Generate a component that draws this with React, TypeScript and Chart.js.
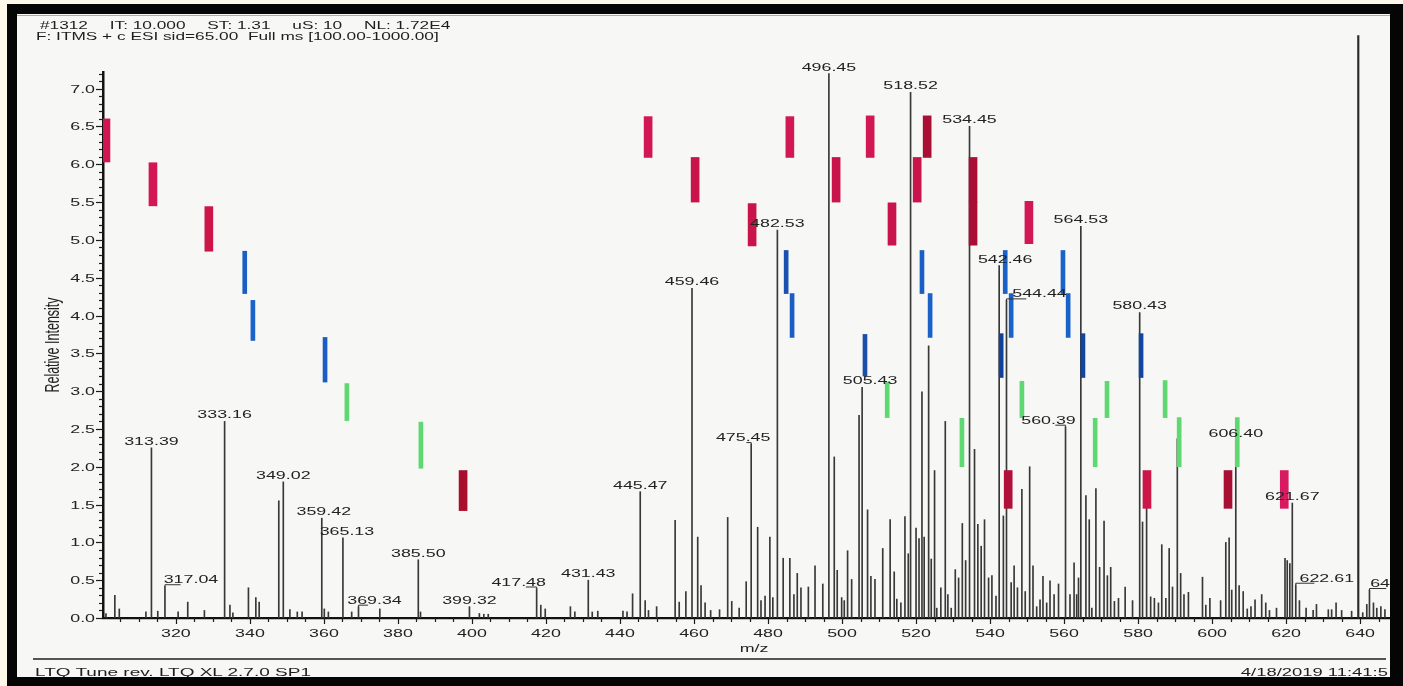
import React, { useEffect, useRef } from "react";
import { Chart, registerables } from "chart.js";

Chart.register(...registerables);

const FONT = '"Liberation Sans", Arial, Helvetica, sans-serif';
const SX = 1.55; // horizontal stretch of the scanned text

// ---- text ----
const headerFields = ["#1312", "IT: 10.000", "ST: 1.31", "uS: 10", "NL: 1.72E4"];
const headerLine2 = "F: ITMS + c ESI sid=65.00  Full ms [100.00-1000.00]";
const footerLeft = "LTQ Tune rev. LTQ XL 2.7.0 SP1";
const footerRight = "4/18/2019 11:41:5";
const xTitle = "m/z";
const yTitle = "Relative Intensity";

// ---- axes ----
const xMin = 300.3;
const xMax = 647.8;
const yMin = 0;
const yMax = 7.22;
const xTickValues = [320, 340, 360, 380, 400, 420, 440, 460, 480, 500, 520, 540, 560, 580, 600, 620, 640];
const yTickValues = [0, 0.5, 1, 1.5, 2, 2.5, 3, 3.5, 4, 4.5, 5, 5.5, 6, 6.5, 7];

// ---- spectrum peaks (m/z, relative intensity) ----
const peakMz = [
  301.1, 303.5, 304.7, 311.9, 313.39, 315.1, 317.04, 320.6, 323.2, 327.7,
  333.16, 334.6, 335.4, 339.6, 341.6, 342.5, 347.8, 349.02, 350.8, 352.8,
  354.1, 359.42, 360.1, 361.2, 365.13, 367.5, 369.34, 375.1, 385.5, 386.1,
  399.32, 402.0, 403.2, 404.4, 417.48, 418.6, 419.8, 426.6, 427.8, 431.43,
  432.5, 434.0, 440.8, 441.9, 443.4, 445.47, 446.8, 447.7, 449.9, 454.9,
  456.0, 457.8, 459.46, 461.0, 461.9, 463.0, 464.5, 466.9, 469.1, 470.2,
  472.2, 474.1, 475.45, 477.2, 478.1, 479.2, 480.5, 481.3, 482.53, 484.1,
  485.9, 487.0, 487.9, 488.9, 490.9, 492.7, 494.8, 496.45, 497.9, 498.7,
  499.9, 500.6, 501.5, 502.6, 504.6, 505.43, 506.9, 507.8, 508.9, 511.0,
  513.0, 514.1, 514.8, 515.9, 517.0, 517.9, 518.52, 520.0, 520.8, 521.6,
  522.2, 523.4, 524.1, 525.0, 525.6, 526.7, 527.9, 528.6, 529.5, 530.6,
  531.5, 532.5, 533.4, 534.45, 535.8, 536.7, 537.6, 538.5, 539.6, 540.5,
  541.6, 542.46, 543.6, 544.44, 545.7, 546.5, 547.4, 548.6, 549.5, 550.7,
  551.6, 552.6, 553.5, 554.3, 555.3, 556.2, 557.3, 558.5, 560.39, 561.6,
  562.7, 563.4, 563.9, 564.53, 565.9, 566.8, 567.5, 568.6, 569.6, 570.8,
  571.7, 572.6, 573.6, 574.7, 576.5, 578.5, 580.43, 581.2, 582.3, 583.4,
  584.4, 585.5, 586.4, 587.5, 588.4, 589.3, 590.6, 591.5, 592.4, 593.6,
  597.4, 598.3, 599.4, 602.3, 603.7, 604.6, 605.3, 606.4, 607.3, 608.4,
  609.5, 610.5, 611.6, 613.4, 614.5, 615.5, 617.4, 619.7, 620.3, 621.0,
  621.67, 622.61, 623.6, 625.4, 627.3, 628.2, 631.4, 632.3, 633.5, 635.0,
  637.7, 640.7, 641.8, 642.52, 643.6, 644.5, 645.6, 646.7,
];
const peakIntensity = [
  0.06, 0.3, 0.12, 0.08, 2.25, 0.09, 0.42, 0.08, 0.21, 0.1,
  2.6, 0.17, 0.07, 0.4, 0.27, 0.21, 1.55, 1.8, 0.11, 0.08,
  0.08, 1.32, 0.12, 0.08, 1.06, 0.08, 0.15, 0.12, 0.77, 0.08,
  0.15, 0.06, 0.05, 0.05, 0.39, 0.17, 0.12, 0.15, 0.08, 0.5,
  0.08, 0.09, 0.09, 0.08, 0.32, 1.67, 0.23, 0.1, 0.15, 1.29,
  0.21, 0.35, 4.36, 1.07, 0.43, 0.2, 0.1, 0.11, 1.33, 0.22,
  0.13, 0.48, 2.3, 1.2, 0.23, 0.29, 1.07, 0.27, 5.13, 0.79,
  0.79, 0.31, 0.59, 0.4, 0.41, 0.69, 0.45, 7.2, 2.13, 0.63,
  0.27, 0.23, 0.89, 0.51, 2.68, 3.05, 1.43, 0.55, 0.51, 0.92,
  1.3, 0.61, 0.25, 0.2, 1.34, 0.85, 6.95, 1.19, 1.05, 2.99,
  1.07, 3.6, 0.78, 1.95, 0.13, 0.4, 2.6, 0.31, 0.13, 0.64,
  0.53, 1.25, 0.76, 6.5, 2.23, 1.24, 0.95, 1.3, 0.53, 0.56,
  0.29, 4.66, 1.35, 4.2, 0.47, 0.69, 0.4, 1.7, 0.35, 2.0,
  0.69, 0.15, 0.24, 0.55, 0.2, 0.49, 0.31, 0.45, 2.53, 0.31,
  0.73, 0.31, 0.53, 5.18, 1.62, 1.3, 0.13, 1.71, 0.67, 1.28,
  0.56, 0.67, 0.22, 0.26, 0.41, 0.23, 4.04, 1.27, 1.45, 0.28,
  0.26, 0.2, 0.97, 0.26, 0.92, 0.41, 2.37, 0.59, 0.31, 0.34,
  0.54, 0.17, 0.26, 0.23, 1.0, 1.06, 0.37, 2.35, 0.43, 0.35,
  0.12, 0.15, 0.24, 0.31, 0.2, 0.1, 0.13, 0.79, 0.76, 0.72,
  1.52, 0.44, 0.23, 0.13, 0.1, 0.18, 0.11, 0.11, 0.2, 0.1,
  0.09, 0.07, 0.18, 0.37, 0.2, 0.13, 0.15, 0.11,
];
// off-scale peak near 640 (runs above the plot frame)
const offScaleMz = [639.5];
const offScaleIntensity = [7.7];

// ---- peak annotations ----
const labelTexts = [
  "313.39", "317.04", "333.16", "349.02", "359.42", "365.13", "369.34", "385.50",
  "399.32", "417.48", "431.43", "445.47", "459.46", "475.45", "482.53", "496.45",
  "505.43", "518.52", "534.45", "542.46", "544.44", "560.39", "564.53", "580.43",
  "606.40", "621.67", "622.61", "642.52",
];
// horizontal label shift (px) and whether a leader line joins label and peak
const labelShift = [0, 26, 0, 0, 2, 4, 16, 0, 0, -18, 0, 0, 0, -8, 0, 0, 8, 0, 0, 6, 33, -17, 0, 0, 0, 0, 31, 28];
const labelLeader = [false, true, false, false, false, false, true, false, false, true, false, false, false, true, false, false, false, false, false, false, true, true, false, false, false, false, true, true];

// ---- coloured marker bars (m/z, low, high) ----
const redMz = [301.1, 447.6, 485.9, 507.6, 523.0, 313.8, 460.3, 498.4, 520.3, 535.4, 328.9, 475.7, 513.5, 535.4, 550.5, 397.6, 544.9, 582.4, 604.3, 619.5];
const redLow = [6.03, 6.09, 6.09, 6.09, 6.09, 5.45, 5.5, 5.5, 5.5, 5.5, 4.85, 4.92, 4.93, 4.93, 4.95, 1.42, 1.45, 1.45, 1.45, 1.45];
const redHigh = [6.6, 6.63, 6.63, 6.64, 6.64, 6.02, 6.09, 6.09, 6.09, 6.09, 5.44, 5.48, 5.49, 5.5, 5.51, 1.95, 1.95, 1.95, 1.95, 1.95];
const redColors = ["#cf1650", "#d21852", "#d21852", "#d21852", "#a80f33", "#d21852", "#c8144a", "#c8144a", "#c8144a", "#a80f33", "#cc1648", "#c8144a", "#c8144a", "#a80f33", "#d21852", "#a80f2c", "#b0103a", "#cc1648", "#a80f33", "#d81b60"];

const blueMz = [338.6, 484.9, 521.6, 544.1, 559.7, 340.8, 486.5, 523.8, 545.7, 561.1, 360.3, 506.2, 543.0, 565.1, 580.8];
const blueLow = [4.29, 4.29, 4.29, 4.29, 4.29, 3.67, 3.71, 3.71, 3.71, 3.71, 3.12, 3.2, 3.18, 3.18, 3.18];
const blueHigh = [4.85, 4.86, 4.86, 4.86, 4.86, 4.2, 4.29, 4.29, 4.29, 4.29, 3.71, 3.75, 3.76, 3.76, 3.76];
const blueColors = ["#1a5ec4", "#1a50b0", "#1a5ec4", "#1a62c8", "#1a62c8", "#1a62c8", "#1a5ec4", "#1a62c8", "#1a62c8", "#1a62c8", "#1a5ec4", "#1a4fa8", "#12419a", "#12469e", "#12469e"];

const greenMz = [366.2, 512.2, 548.6, 571.6, 587.3, 386.2, 532.4, 568.4, 591.1, 606.8];
const greenLow = [2.61, 2.65, 2.65, 2.65, 2.65, 1.98, 2.0, 2.0, 2.0, 2.0];
const greenHigh = [3.1, 3.12, 3.13, 3.13, 3.14, 2.59, 2.64, 2.64, 2.65, 2.65];
const greenColor = "#5fd872";

function stretchedText(ctx: CanvasRenderingContext2D, text: string, x: number, y: number, align: CanvasTextAlign) {
  ctx.save();
  ctx.translate(x, y);
  ctx.scale(SX, 1);
  ctx.textAlign = align;
  ctx.textBaseline = "alphabetic";
  ctx.fillText(text, 0, 0);
  ctx.restore();
}

// scale factor so a text run fills a measured width on the scan
function fitScale(text: string, font: string, width: number, fallback: number) {
  try {
    const c = document.createElement("canvas").getContext("2d");
    if (!c) return fallback;
    c.font = font;
    const w = c.measureText(text).width;
    return w > 0 ? width / w : fallback;
  } catch (e) {
    return fallback;
  }
}

const overlayPlugin = {
  id: "spectrumOverlay",
  afterDraw(chart: any) {
    const ctx: CanvasRenderingContext2D = chart.ctx;
    const a = chart.chartArea;
    const xs = chart.scales.x;
    const ys = chart.scales.y;
    ctx.save();
    ctx.strokeStyle = "#1c1c1c";
    ctx.lineWidth = 1.2;
    // x ticks (major every 20, minor every 5)
    for (let v = 305; v < xMax; v += 5) {
      const px = Math.round(xs.getPixelForValue(v)) + 0.5;
      const major = v % 20 === 0;
      ctx.beginPath();
      ctx.moveTo(px, a.bottom);
      ctx.lineTo(px, a.bottom + (major ? 6 : 4));
      ctx.stroke();
    }
    // y ticks (major every 0.5, minor every 0.1)
    for (let k = 0; k / 10 <= yMax; k++) {
      const py = Math.round(ys.getPixelForValue(k / 10)) + 0.5;
      const major = k % 5 === 0;
      ctx.beginPath();
      ctx.moveTo(a.left - (major ? 7 : 4), py);
      ctx.lineTo(a.left, py);
      ctx.stroke();
    }
    // tick labels
    ctx.fillStyle = "#222";
    ctx.font = `11.5px ${FONT}`;
    xTickValues.forEach((v) => stretchedText(ctx, String(v), xs.getPixelForValue(v), a.bottom + 19, "center"));
    yTickValues.forEach((v) => stretchedText(ctx, v.toFixed(1), a.left - 8, ys.getPixelForValue(v) + 4, "right"));
    // axis titles
    stretchedText(ctx, xTitle, (a.left + a.right) / 2 + 8, a.bottom + 34, "center");
    ctx.save();
    ctx.font = `12.5px ${FONT}`;
    ctx.translate(59, (a.top + a.bottom) / 2);
    ctx.scale(SX, 1);
    ctx.rotate(-Math.PI / 2);
    ctx.textAlign = "center";
    ctx.textBaseline = "alphabetic";
    ctx.fillText(yTitle, 0, 0);
    ctx.restore();
    // peak labels
    ctx.font = `11.5px ${FONT}`;
    ctx.lineWidth = 1;
    ctx.strokeStyle = "#333";
    labelTexts.forEach((t, i) => {
      const mz = parseFloat(t);
      let best = 0;
      for (let j = 1; j < peakMz.length; j++) {
        if (Math.abs(peakMz[j] - mz) < Math.abs(peakMz[best] - mz)) best = j;
      }
      const px = xs.getPixelForValue(peakMz[best]);
      const py = ys.getPixelForValue(peakIntensity[best]);
      const dx = labelShift[i];
      if (labelLeader[i]) {
        ctx.beginPath();
        ctx.moveTo(px, py);
        ctx.lineTo(px, py - 1.5);
        ctx.lineTo(px + dx * 0.6, py - 1.5);
        ctx.stroke();
      }
      stretchedText(ctx, t, px + dx, py - 3, "center");
    });
    ctx.restore();
  },
};

export default function App() {
  const canvasRef = useRef<HTMLCanvasElement>(null);

  useEffect(() => {
    const canvas = canvasRef.current;
    if (!canvas) return;
    const chart = new Chart(canvas, {
      type: "bar",
      data: {
        datasets: [
          {
            label: "red",
            data: redMz.map((x, i) => ({ x, y: [redLow[i], redHigh[i]] })),
            backgroundColor: redColors,
            barThickness: 8,
            grouped: false,
            order: 1,
          } as any,
          {
            label: "blue",
            data: blueMz.map((x, i) => ({ x, y: [blueLow[i], blueHigh[i]] })),
            backgroundColor: blueColors,
            barThickness: 4,
            grouped: false,
            order: 1,
          } as any,
          {
            label: "green",
            data: greenMz.map((x, i) => ({ x, y: [greenLow[i], greenHigh[i]] })),
            backgroundColor: greenColor,
            barThickness: 4,
            grouped: false,
            order: 1,
          } as any,
          {
            label: "spectrum",
            data: peakMz.map((x, i) => ({ x, y: peakIntensity[i] })),
            backgroundColor: "#383838",
            barThickness: 1,
            grouped: false,
            order: 2,
          } as any,
          {
            label: "offscale",
            data: offScaleMz.map((x, i) => ({ x, y: offScaleIntensity[i] })),
            backgroundColor: "#2a2a2a",
            barThickness: 1.5,
            grouped: false,
            clip: false,
            order: 2,
          } as any,
        ],
      },
      options: {
        responsive: false,
        devicePixelRatio: 1,
        animation: false,
        events: [],
        layout: { padding: { left: 20, right: 14, top: 72, bottom: 23 } },
        plugins: { legend: { display: false }, tooltip: { enabled: false }, title: { display: false } },
        scales: {
          x: {
            type: "linear",
            min: xMin,
            max: xMax,
            offset: false,
            grid: { display: false },
            ticks: { display: false, stepSize: 20, includeBounds: false },
            border: { display: true, color: "#111", width: 2.2 },
            afterFit: (s: any) => {
              s.height = 45;
            },
          },
          y: {
            type: "linear",
            min: yMin,
            max: yMax,
            grid: { display: false },
            ticks: { display: false, stepSize: 0.5, includeBounds: false },
            border: { display: true, color: "#111", width: 2.5 },
            afterFit: (s: any) => {
              s.width = 83;
            },
          },
        },
      } as any,
      plugins: [overlayPlugin],
    });
    return () => chart.destroy();
  }, []);

  const cssFont = `11.5px ${FONT}`;
  const textStyle = (scale: number, origin: string): React.CSSProperties => ({
    position: "absolute",
    fontFamily: FONT,
    fontSize: "11.5px",
    lineHeight: "13px",
    color: "#1e1e1e",
    whiteSpace: "pre",
    transform: `scaleX(${scale})`,
    transformOrigin: origin,
  });
  const sFoot = fitScale(footerLeft, cssFont, 277, 1.6);
  const sDate = fitScale(footerRight, cssFont, 147, 1.5);

  return (
    <div style={{ position: "absolute", left: 0, top: 0, width: 1403, height: 686, background: "#fdf8ea", overflow: "hidden" }}>
      <div style={{ position: "absolute", left: 7, top: 4, width: 1396, height: 682, background: "#050505" }} />
      <div style={{ position: "absolute", left: 17, top: 14, width: 1373, height: 663, background: "#f7f7f6", overflow: "hidden" }}>
        <div style={{ position: "absolute", left: 0, top: 1, width: 1373, height: 1, background: "#aaa" }} />
        <canvas
          ref={canvasRef}
          width={1403}
          height={686}
          style={{ position: "absolute", left: -17, top: -14, width: 1403, height: 686 }}
        />
        <div style={{ ...textStyle(1.5, "left center"), left: 23, top: 4.5, display: "flex", gap: "14.5px" }}>
          {headerFields.map((f) => (
            <span key={f}>{f}</span>
          ))}
        </div>
        <div style={{ ...textStyle(1.5, "left center"), left: 19, top: 16 }}>{headerLine2}</div>
        <div style={{ position: "absolute", left: 16, top: 644, width: 1353, height: 2, background: "#555" }} />
        <div style={{ ...textStyle(sFoot, "left center"), left: 18, top: 651.5 }}>{footerLeft}</div>
        <div style={{ ...textStyle(sDate, "right center"), right: 2, top: 651.5 }}>{footerRight}</div>
      </div>
    </div>
  );
}
